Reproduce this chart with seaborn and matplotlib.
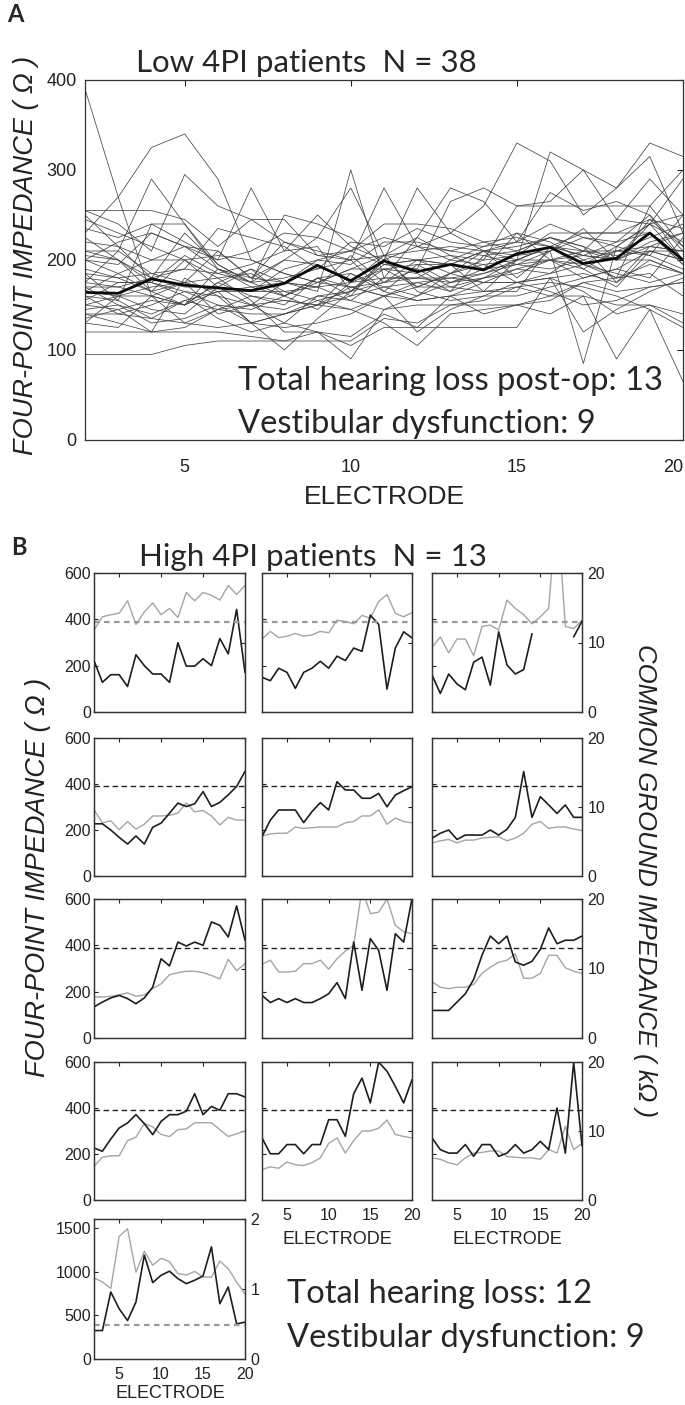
import matplotlib
matplotlib.use('Agg')
import matplotlib.pyplot as plt
import seaborn as sns
import pandas as pd
import numpy as np

W, H = 685, 1405
NAN = np.nan

electrodes = list(range(2, 21))

# Panel A: four-point impedance (ohm) per low-4PI patient, electrodes 2..20
low_4pi = [
    [390, 270, 160, 150, 175, 160, 150, 180, 170, 160, 175, 165, 180, 185, 200, 190, 210, 205, 190],
    [230, 270, 325, 340, 290, 200, 185, 175, 190, 205, 200, 195, 210, 220, 240, 225, 215, 240, 220],
    [255, 240, 210, 295, 260, 245, 220, 210, 200, 280, 215, 230, 210, 200, 320, 300, 280, 315, 230],
    [175, 210, 290, 240, 190, 180, 175, 165, 300, 180, 225, 205, 190, 230, 220, 200, 180, 260, 300],
    [160, 155, 240, 220, 200, 280, 210, 250, 215, 200, 280, 230, 260, 330, 310, 250, 280, 330, 315],
    [225, 200, 180, 230, 195, 175, 250, 240, 225, 195, 190, 265, 280, 260, 265, 300, 245, 290, 250],
    [255, 255, 255, 245, 215, 245, 245, 205, 210, 195, 200, 185, 175, 190, 200, 205, 220, 250, 210],
    [140, 130, 120, 120, 120, 115, 110, 120, 105, 125, 125, 125, 125, 125, 180, 165, 140, 150, 130],
    [95, 95, 95, 105, 110, 110, 110, 110, 110, 135, 130, 150, 150, 150, 160, 160, 150, 150, 140],
    [170, 170, 180, 170, 170, 150, 155, 150, 170, 160, 170, 170, 165, 165, 215, 190, 170, 210, 200],
    [210, 200, 165, 200, 180, 155, 120, 120, 90, 145, 160, 185, 200, 205, 230, 230, 230, 230, 195],
    [150, 145, 120, 180, 160, 130, 140, 155, 165, 200, 170, 185, 210, 180, 210, 85, 215, 205, 250],
    [185, 155, 135, 155, 145, 140, 140, 150, 145, 130, 105, 140, 145, 150, 155, 175, 165, 170, 175],
    [140, 140, 135, 130, 125, 130, 140, 150, 185, 165, 155, 160, 140, 150, 140, 160, 90, 145, 125],
    [120, 120, 120, 125, 145, 150, 130, 120, 115, 140, 125, 160, 175, 175, 180, 120, 145, 165, 180],
    [200, 195, 230, 215, 210, 180, 220, 205, 200, 165, 195, 195, 165, 200, 215, 210, 210, 215, 230],
    [165, 185, 200, 200, 170, 165, 190, 200, 210, 240, 240, 235, 220, 210, 225, 210, 200, 240, 200],
    [180, 175, 175, 165, 150, 130, 100, 135, 165, 175, 180, 180, 175, 175, 180, 185, 175, 200, 185],
    [130, 160, 145, 140, 170, 190, 175, 200, 195, 220, 220, 210, 205, 195, 190, 200, 210, 225, 240],
    [235, 225, 240, 240, 195, 175, 160, 180, 160, 200, 215, 200, 195, 175, 185, 210, 245, 240, 290],
    [150, 160, 170, 175, 180, 185, 165, 170, 205, 175, 200, 195, 210, 215, 225, 215, 175, 215, 210],
    [210, 210, 185, 175, 165, 170, 175, 170, 155, 180, 180, 175, 185, 195, 200, 195, 180, 195, 185],
    [200, 185, 165, 150, 175, 190, 160, 175, 190, 190, 195, 175, 190, 195, 210, 235, 200, 200, 185],
    [160, 140, 150, 165, 160, 150, 175, 170, 175, 205, 165, 155, 160, 160, 170, 180, 190, 210, 200],
    [130, 125, 160, 150, 190, 170, 160, 145, 175, 180, 180, 200, 215, 220, 215, 205, 200, 215, 210],
    [245, 230, 215, 200, 205, 200, 185, 175, 170, 175, 190, 170, 180, 200, 215, 205, 200, 245, 235],
    [145, 150, 140, 155, 165, 130, 125, 130, 140, 160, 155, 160, 165, 170, 175, 170, 160, 145, 65],
    [175, 170, 160, 130, 145, 160, 155, 150, 160, 170, 175, 180, 185, 200, 200, 210, 205, 210, 210],
    [190, 180, 165, 175, 210, 180, 200, 195, 175, 190, 185, 165, 205, 210, 225, 215, 200, 220, 230],
    [205, 200, 175, 205, 185, 195, 210, 215, 165, 195, 200, 205, 200, 260, 260, 260, 260, 260, 215],
    [165, 160, 160, 175, 140, 150, 145, 160, 155, 145, 150, 150, 155, 170, 160, 175, 180, 185, 160],
    [220, 215, 200, 215, 190, 175, 200, 225, 280, 205, 225, 280, 265, 220, 275, 255, 265, 250, 200],
    [155, 175, 175, 160, 135, 120, 130, 160, 165, 190, 170, 185, 195, 200, 215, 230, 230, 245, 215],
    [250, 215, 180, 190, 235, 225, 215, 190, 220, 215, 235, 220, 215, 230, 200, 180, 190, 180, 225],
    [135, 145, 155, 150, 165, 165, 165, 155, 145, 160, 120, 145, 160, 175, 165, 150, 155, 170, 175],
    [200, 220, 230, 215, 200, 210, 230, 225, 210, 225, 215, 210, 220, 225, 215, 195, 215, 240, 250],
    [170, 150, 130, 135, 150, 145, 160, 180, 185, 170, 160, 175, 180, 190, 185, 195, 185, 175, 185],
    [185, 180, 185, 190, 185, 175, 180, 190, 200, 205, 210, 215, 210, 205, 210, 225, 220, 230, 195],
]
low_mean = [164, 163, 179, 172, 169, 166, 174, 194, 177, 199, 187, 195, 189, 207, 214, 196, 202, 230, 200]

# Panel B: four-point impedance (ohm) and common ground impedance (kohm), 13 patients
high_4pi = [
    [222, 128, 161, 161, 110, 247, 200, 164, 164, 128, 299, 198, 198, 230, 200, 317, 251, 443, 171],
    [150, 135, 189, 171, 102, 171, 189, 219, 189, 241, 222, 276, 262, 418, 378, 99, 276, 346, 320],
    [160, 80, 164, 121, 96, 215, 237, 116, 346, 203, 164, 183, 338, NAN, NAN, NAN, NAN, 324, 392],
    [227, 227, 200, 168, 139, 174, 139, 212, 230, 273, 317, 302, 314, 367, 302, 320, 353, 389, 455],
    [171, 243, 287, 287, 287, 232, 280, 319, 287, 410, 374, 374, 338, 338, 359, 301, 352, 371, 388],
    [164, 186, 200, 159, 178, 178, 178, 200, 178, 203, 255, 454, 255, 345, 309, 272, 309, 255, 255],
    [134, 155, 173, 184, 170, 148, 173, 220, 342, 311, 414, 397, 414, 400, 501, 486, 436, 570, 422],
    [184, 153, 170, 153, 170, 153, 153, 170, 191, 239, 170, 414, 206, 429, 378, 206, 450, 414, 601],
    [119, 119, 119, 155, 191, 253, 357, 440, 407, 440, 328, 314, 331, 383, 475, 407, 422, 422, 440],
    [226, 212, 265, 313, 335, 371, 332, 284, 342, 371, 371, 386, 462, 371, 407, 390, 462, 462, 448],
    [270, 201, 201, 241, 241, 201, 241, 241, 349, 349, 277, 462, 530, 422, 599, 560, 494, 422, 523],
    [270, 219, 204, 204, 241, 190, 241, 241, 190, 204, 241, 204, 219, 255, 219, 400, 204, 599, 236],
    [325, 325, 766, 574, 440, 651, 1187, 873, 957, 1003, 919, 861, 900, 949, 1282, 632, 823, 402, 421],
]
high_cgi = [
    [11.8, 13.7, 14.0, 14.2, 16.0, 12.6, 14.4, 15.7, 14.0, 14.9, 13.6, 17.2, 16.0, 17.2, 16.8, 16.1, 18.2, 16.9, 18.2],
    [10.5, 11.6, 10.7, 10.9, 11.3, 10.9, 11.1, 11.6, 11.4, 13.2, 13.0, 12.7, 13.9, 13.5, 15.9, 16.9, 14.2, 13.7, 14.3],
    [9.3, 10.8, 8.5, 10.5, 10.5, 8.1, 12.3, 12.5, 11.8, 16.1, 14.9, 14.0, 12.7, 13.7, 14.9, 30.0, 12.3, 12.0, 13.2],
    [9.6, 7.7, 8.0, 6.7, 7.9, 6.8, 7.5, 8.7, 8.7, 8.8, 9.1, 10.6, 9.3, 9.5, 8.7, 7.4, 8.5, 8.1, 8.1],
    [5.8, 6.1, 6.2, 6.2, 7.1, 6.9, 7.0, 7.1, 7.1, 7.1, 7.7, 7.9, 8.7, 8.7, 9.6, 7.5, 8.4, 7.9, 7.7],
    [4.8, 5.1, 5.3, 4.8, 5.2, 5.2, 5.5, 5.6, 5.7, 5.1, 5.5, 6.2, 7.5, 7.9, 6.9, 7.1, 7.1, 6.8, 6.6],
    [5.9, 5.9, 6.0, 6.2, 6.5, 6.0, 6.2, 7.1, 7.8, 9.1, 9.4, 9.6, 9.6, 9.4, 9.0, 8.5, 11.3, 9.7, 10.7],
    [10.6, 11.2, 9.5, 9.5, 9.6, 10.7, 10.7, 11.2, 9.9, 11.4, 12.5, 13.3, 21.5, 17.9, 18.1, 20.0, 16.2, 15.3, 15.0],
    [8.1, 7.3, 7.1, 7.3, 7.3, 7.7, 9.3, 10.2, 10.9, 11.2, 12.1, 8.6, 8.6, 9.3, 11.9, 11.9, 10.1, 9.6, 9.3],
    [4.9, 6.2, 6.4, 6.4, 8.6, 9.1, 11.1, 10.6, 9.5, 9.2, 10.2, 10.3, 11.2, 11.2, 11.2, 10.2, 9.2, 9.6, 10.0],
    [4.4, 4.8, 4.6, 5.5, 5.1, 5.0, 5.4, 6.1, 8.2, 9.0, 6.8, 8.6, 10.0, 10.0, 10.4, 11.6, 9.5, 9.2, 9.0],
    [6.1, 5.9, 5.4, 5.1, 6.1, 6.8, 6.9, 7.1, 7.1, 6.3, 6.2, 6.1, 6.1, 5.9, 7.3, 6.8, 10.7, 7.3, 8.2],
    [1.16, 1.10, 1.01, 1.75, 1.86, 1.24, 1.54, 1.34, 1.44, 1.39, 1.22, 1.20, 1.25, 1.17, 1.17, 1.40, 1.29, 1.10, 0.93],
]
threshold_4pi = 390

sns.set_theme(style='white')
plt.rcParams['font.family'] = ['Liberation Sans', 'DejaVu Sans']
plt.rcParams['axes.edgecolor'] = '#333333'
plt.rcParams['axes.linewidth'] = 0.9

TITLE_FONT = ['Lato', 'DejaVu Sans']


def rect(l, t, r, b):
    return [l / W, 1 - b / H, (r - l) / W, (b - t) / H]


def px(x, y):
    return x / W, 1 - y / H


def segments(vals):
    # split a series at missing electrodes so the gap stays visible
    rows, seg = [], 0
    for e, v in zip(electrodes, vals):
        if np.isnan(v):
            seg += 1
            continue
        rows.append((e, v, seg))
    return pd.DataFrame(rows, columns=['electrode', 'value', 'seg'])


fig = plt.figure(figsize=(W / 100, H / 100), dpi=100)

# ---------- Panel A ----------
axA = fig.add_axes(rect(85, 80, 683, 440))
long_rows = []
for pid, vals in enumerate(low_4pi):
    for e, v in zip(electrodes, vals):
        long_rows.append((pid, e, v))
df_low = pd.DataFrame(long_rows, columns=['patient', 'electrode', 'impedance'])
sns.lineplot(data=df_low, x='electrode', y='impedance', units='patient', estimator=None,
             color='#444444', lw=0.55, legend=False, ax=axA)
sns.lineplot(x=electrodes, y=low_mean, color='#0a0a0a', lw=2.0, ax=axA)
axA.set_xlim(2, 20)
axA.set_ylim(0, 400)
axA.set_xticks([5, 10, 15, 20])
axA.set_yticks([0, 100, 200, 300, 400])
axA.tick_params(direction='in', top=True, right=True, length=4, width=0.8,
                labelsize=13, colors='#222222')
axA.tick_params(axis='x', pad=14)
axA.tick_params(axis='y', pad=6)
axA.get_xticklabels()[-1].set_horizontalalignment('right')
axA.set_xlabel('')
axA.set_ylabel('')

fig.text(*px(384, 497), 'ELECTRODE', fontsize=19, ha='center', va='center', color='#222222')
fig.text(*px(26, 255), 'FOUR-POINT IMPEDANCE ( Ω )', fontsize=19.5, style='italic',
         rotation=90, ha='center', va='center', color='#222222')
fig.text(*px(7, 22), 'A', fontsize=17, fontweight='bold', family=TITLE_FONT, va='baseline')
fig.text(*px(306, 72), 'Low 4PI patients  N = 38', fontsize=22.5, family=TITLE_FONT,
         ha='center', va='baseline')
fig.text(*px(238, 390), 'Total hearing loss post-op: 13', fontsize=23.5, family=TITLE_FONT,
         va='baseline')
fig.text(*px(238, 433), 'Vestibular dysfunction: 9', fontsize=23.5, family=TITLE_FONT,
         va='baseline')

# ---------- Panel B ----------
cols = [(94, 245), (262, 412), (432, 582)]
rows_px = [(573, 712), (738, 876), (899, 1038), (1062, 1200), (1219, 1359)]

for i in range(13):
    r, c = divmod(i, 3)
    bottom_row = r == 4
    (l, rr), (t, b) = cols[c], rows_px[r]
    ax = fig.add_axes(rect(l, t, rr, b))
    ax2 = ax.twinx()

    cg = segments(high_cgi[i])
    sns.lineplot(data=cg, x='electrode', y='value', units='seg', estimator=None,
                 color='#a5a5a5', lw=1.0, ax=ax2)
    fp = segments(high_4pi[i])
    sns.lineplot(data=fp, x='electrode', y='value', units='seg', estimator=None,
                 color='#1e1e1e', lw=1.2, ax=ax)

    if r in (0, 4):
        ax.axhline(threshold_4pi, color='#9a9a9a', lw=1.6, ls=(0, (2.5, 2)))
    else:
        ax.axhline(threshold_4pi, color='#222222', lw=1.0, ls=(0, (4, 2.5)))

    ax.set_zorder(ax2.get_zorder() + 1)
    ax.patch.set_visible(False)

    ax.set_xlim(2, 20)
    ax.set_xticks([5, 10, 15, 20])
    if bottom_row:
        ax.set_ylim(0, 1600)
        ax.set_yticks([0, 500, 1000, 1500])
        ax2.set_ylim(0, 2)
        ax2.set_yticks([0, 1, 2])
    else:
        ax.set_ylim(0, 600)
        ax.set_yticks([0, 200, 400, 600])
        ax2.set_ylim(0, 20)
        ax2.set_yticks([0, 10, 20])

    show_x = bottom_row or (r == 3 and c > 0)
    show_left = c == 0
    show_right = c == 2 or bottom_row
    ax.tick_params(direction='in', top=True, right=False, length=3, width=0.8,
                   labelsize=11.5, colors='#222222', labelbottom=show_x, labelleft=show_left)
    ax.tick_params(axis='x', pad=6)
    ax.tick_params(axis='y', pad=2)
    ax2.tick_params(direction='in', length=3, width=0.8, labelsize=11.5, colors='#222222',
                    labelright=show_right, pad=4)
    for a in (ax, ax2):
        a.set_xlabel('')
        a.set_ylabel('')

fig.text(*px(337, 1240), 'ELECTRODE', fontsize=13, ha='center', va='center', color='#222222')
fig.text(*px(507, 1240), 'ELECTRODE', fontsize=13, ha='center', va='center', color='#222222')
fig.text(*px(170, 1394), 'ELECTRODE', fontsize=13, ha='center', va='center', color='#222222')

fig.text(*px(38, 877), 'FOUR-POINT IMPEDANCE ( Ω )', fontsize=19.5, style='italic',
         rotation=90, ha='center', va='center', color='#222222')
fig.text(*px(645, 881), 'COMMON GROUND IMPEDANCE ( kΩ )', fontsize=18.5, style='italic',
         rotation=270, ha='center', va='center', color='#222222')
fig.text(*px(11, 555), 'B', fontsize=17, fontweight='bold', family=TITLE_FONT, va='baseline')
fig.text(*px(313, 566), 'High 4PI patients  N = 13', fontsize=22.5, family=TITLE_FONT,
         ha='center', va='baseline')
fig.text(*px(287, 1303), 'Total hearing loss: 12', fontsize=23.5, family=TITLE_FONT,
         va='baseline')
fig.text(*px(287, 1347), 'Vestibular dysfunction: 9', fontsize=23.5, family=TITLE_FONT,
         va='baseline')

fig.savefig('out.png', dpi=100, facecolor='white')
plt.close(fig)
